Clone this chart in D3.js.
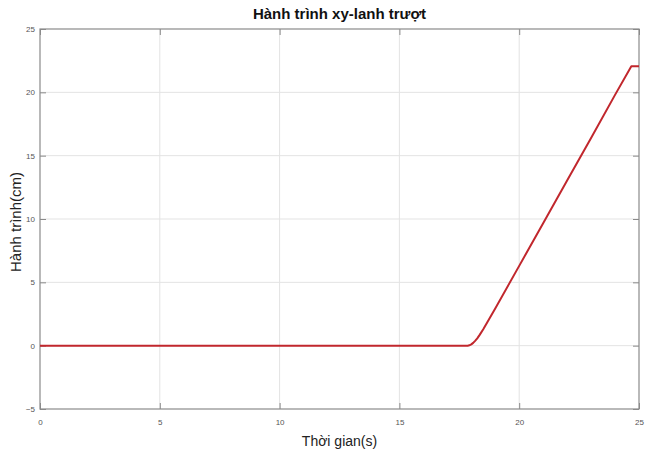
<!DOCTYPE html>
<html>
<head>
<meta charset="utf-8">
<script src="https://cdn.jsdelivr.net/npm/d3@7"></script>
<style>
html,body{margin:0;padding:0;background:#fff;}
svg{display:block;}
</style>
</head>
<body>
<svg id="chart" width="654" height="457"></svg>
<script>
const title = "Hành trình xy-lanh trượt";
const xLabel = "Thời gian(s)";
const yLabel = "Hành trình(cm)";
const xTicks = [0, 5, 10, 15, 20, 25];
const yTicks = [-5, 0, 5, 10, 15, 20, 25];
const timeS = [0, 17.85, 17.92, 18.0, 18.08, 18.16, 18.25, 18.35, 18.5, 19, 20, 21, 22, 23, 24, 24.68, 25];
const strokeCm = [0, 0, 0.03, 0.1, 0.22, 0.38, 0.58, 0.85, 1.3, 2.93, 6.3, 9.67, 13.04, 16.4, 19.8, 22.05, 22.05];

const W = 654, H = 457;
const m = {left: 40, right: 15, top: 29, bottom: 48};
const svg = d3.select("#chart");
const x = d3.scaleLinear().domain([0, 25]).range([m.left, W - m.right]);
const y = d3.scaleLinear().domain([-5, 25]).range([H - m.bottom, m.top]);

// grid
svg.append("g").selectAll("line").data(xTicks.slice(1, -1)).join("line")
  .attr("x1", d => x(d)).attr("x2", d => x(d))
  .attr("y1", y(-5)).attr("y2", y(25))
  .attr("stroke", "#e3e3e3").attr("stroke-width", 1);
svg.append("g").selectAll("line").data(yTicks.slice(1, -1)).join("line")
  .attr("x1", x(0)).attr("x2", x(25))
  .attr("y1", d => y(d)).attr("y2", d => y(d))
  .attr("stroke", "#e3e3e3").attr("stroke-width", 1);

// axes
const tickLen = 6;
function styleAxis(g) {
  g.select(".domain").remove();
  g.selectAll(".tick line").attr("stroke", "#8a8a8a");
  g.selectAll(".tick text").attr("fill", "#555").attr("font-size", 8)
    .attr("font-family", "Liberation Sans, Arial, sans-serif");
}
svg.append("g").attr("transform", `translate(0,${y(-5)})`)
  .call(d3.axisBottom(x).tickValues(xTicks).tickSize(-tickLen).tickPadding(10))
  .call(styleAxis);
svg.append("g").attr("transform", `translate(${x(0)},0)`)
  .call(d3.axisLeft(y).tickValues(yTicks).tickSize(-tickLen).tickPadding(5))
  .call(styleAxis);
svg.append("g").attr("transform", `translate(0,${y(25)})`)
  .call(d3.axisTop(x).tickValues(xTicks).tickSize(-tickLen).tickFormat(""))
  .call(styleAxis);
svg.append("g").attr("transform", `translate(${x(25)},0)`)
  .call(d3.axisRight(y).tickValues(yTicks).tickSize(-tickLen).tickFormat(""))
  .call(styleAxis);

// box
svg.append("rect")
  .attr("x", x(0)).attr("y", y(25))
  .attr("width", x(25) - x(0)).attr("height", y(-5) - y(25))
  .attr("fill", "none").attr("stroke", "#8a8a8a").attr("stroke-width", 1.2);

// line
const data = timeS.map((t, i) => [t, strokeCm[i]]);
svg.append("path").datum(data)
  .attr("fill", "none").attr("stroke", "#c1272d").attr("stroke-width", 2)
  .attr("stroke-linejoin", "round")
  .attr("d", d3.line().x(d => x(d[0])).y(d => y(d[1])));

// labels
svg.append("text").attr("x", (x(0) + x(25)) / 2).attr("y", 19)
  .attr("text-anchor", "middle").attr("font-size", 15).attr("font-weight", "bold")
  .attr("font-family", "Liberation Sans, Arial, sans-serif").attr("fill", "#111")
  .text(title);
svg.append("text").attr("x", (x(0) + x(25)) / 2).attr("y", 446)
  .attr("text-anchor", "middle").attr("font-size", 14)
  .attr("font-family", "Liberation Sans, Arial, sans-serif").attr("fill", "#222")
  .text(xLabel);
svg.append("text").attr("transform", `translate(21,${(y(-5) + y(25)) / 2 + 3}) rotate(-90)`)
  .attr("text-anchor", "middle").attr("font-size", 15)
  .attr("font-family", "Liberation Sans, Arial, sans-serif").attr("fill", "#222")
  .text(yLabel);
</script>
</body>
</html>
